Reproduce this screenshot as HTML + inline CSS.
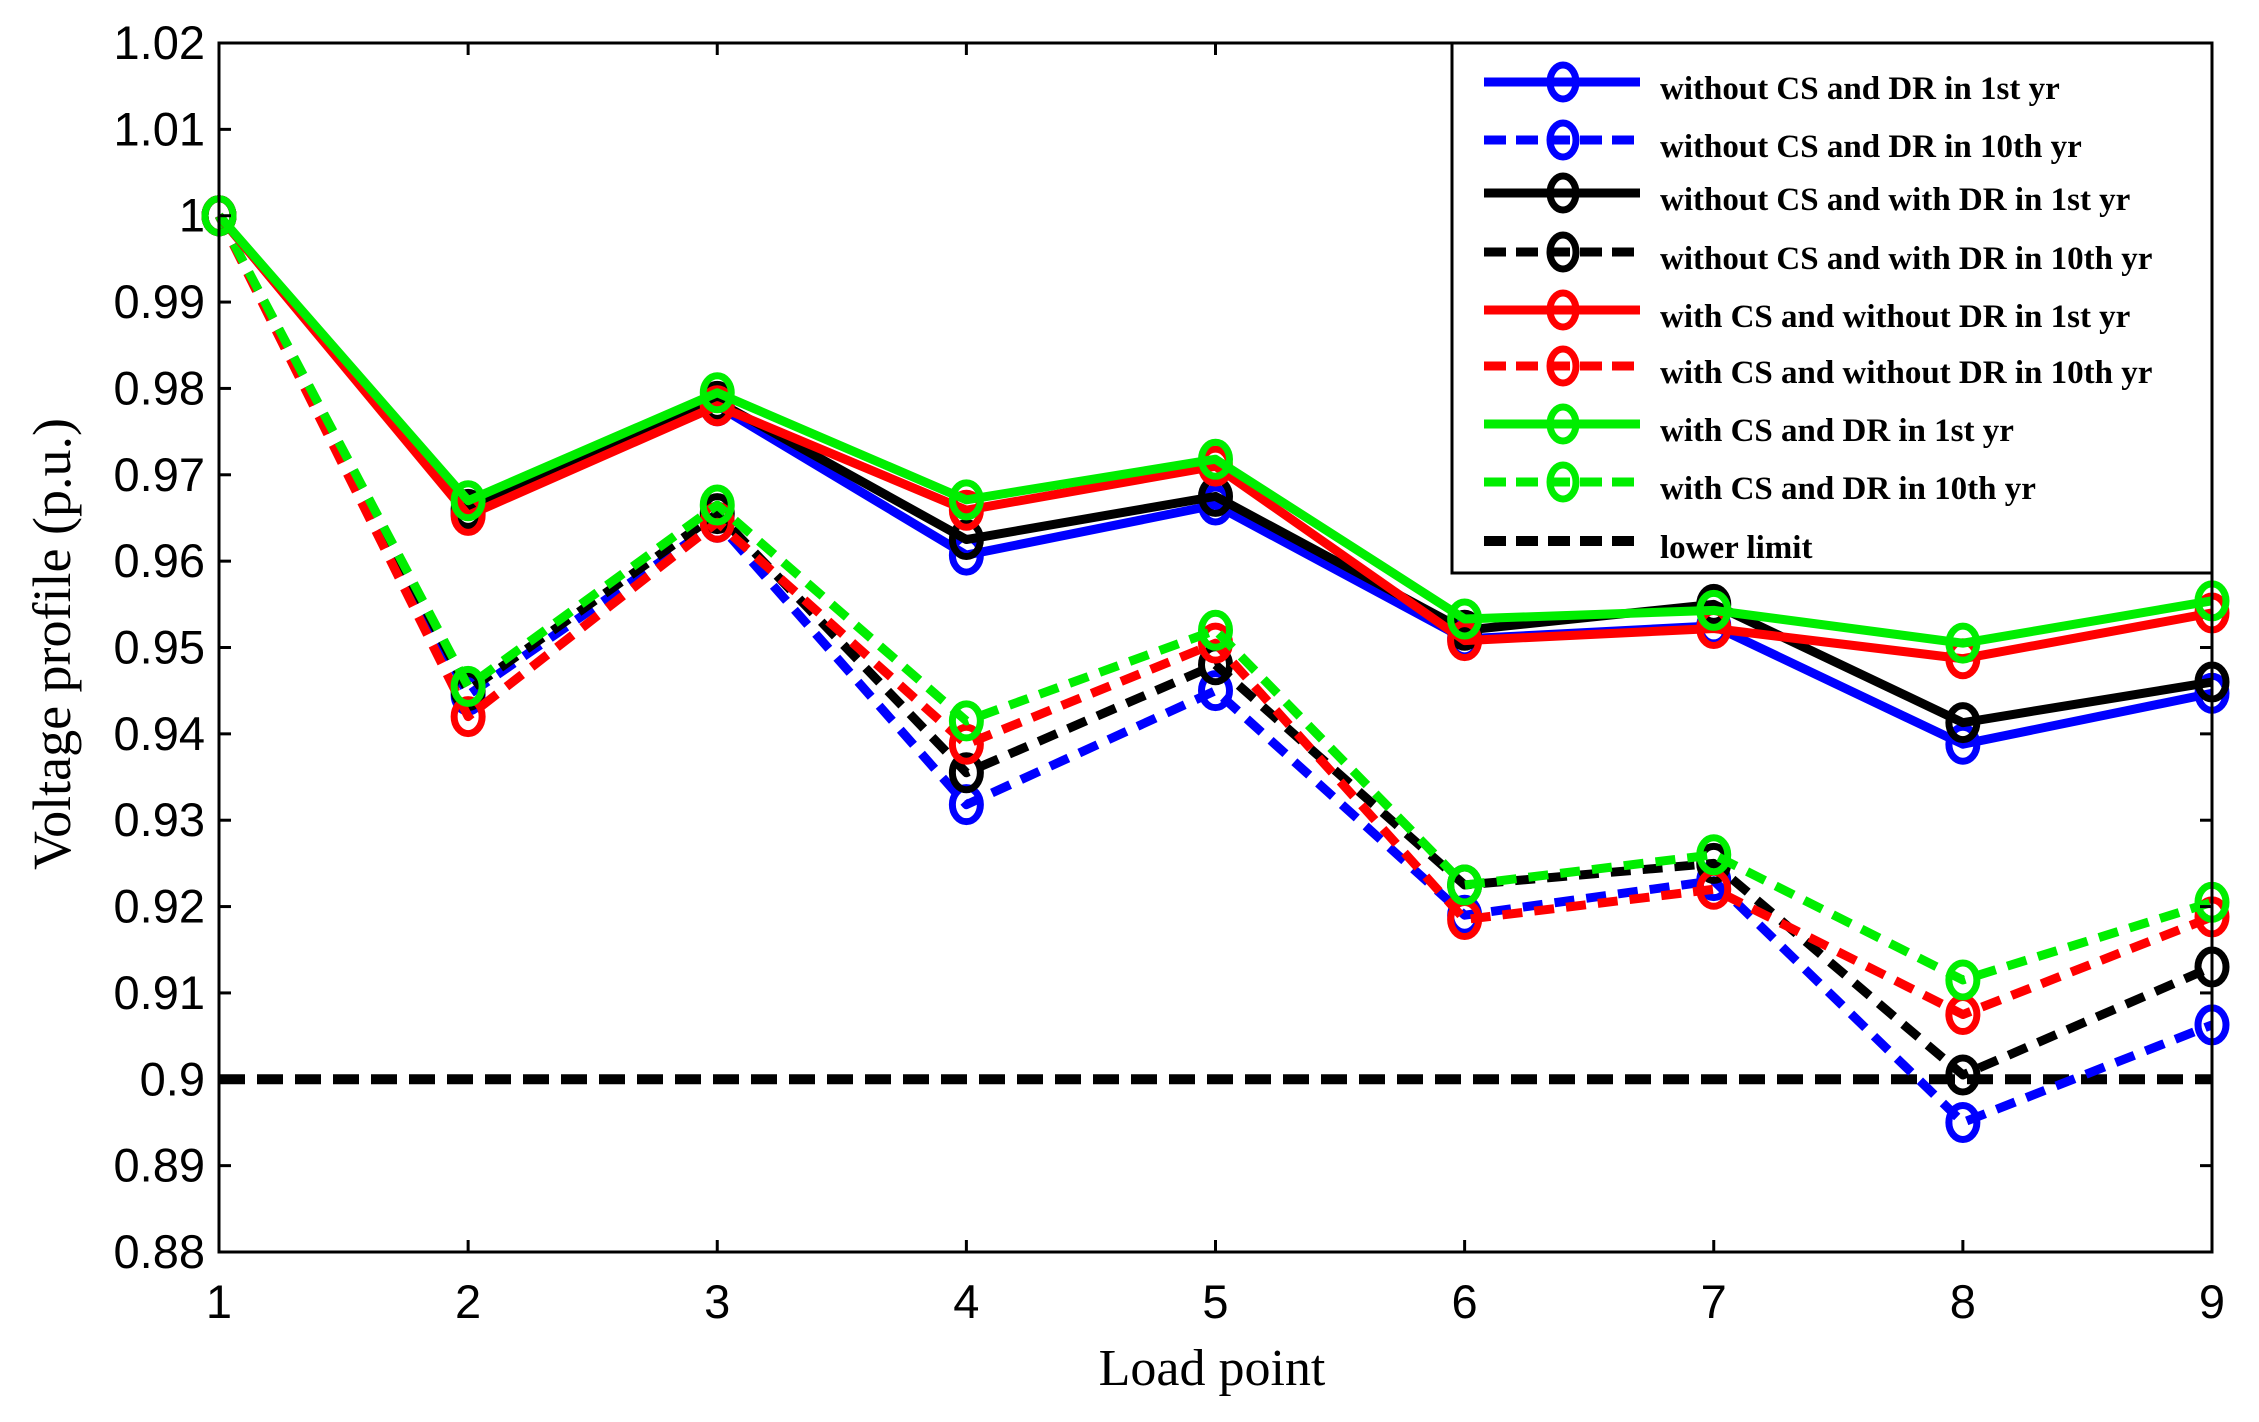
<!DOCTYPE html>
<html><head><meta charset="utf-8"><style>
html,body{margin:0;padding:0;background:#fff;}
svg{display:block;}
</style></head><body>
<svg id="chart" width="2259" height="1422" xmlns="http://www.w3.org/2000/svg">
<rect width="2259" height="1422" fill="#fff"/>
<g id="plot"></g>
</svg>
<script>
const categories = [1,2,3,4,5,6,7,8,9];
const yTicks = [0.88,0.89,0.9,0.91,0.92,0.93,0.94,0.95,0.96,0.97,0.98,0.99,1,1.01,1.02];
const yTickLabels = ["0.88","0.89","0.9","0.91","0.92","0.93","0.94","0.95","0.96","0.97","0.98","0.99","1","1.01","1.02"];
const blueSolid = [1,0.9655,0.978,0.9607,0.9665,0.951,0.9525,0.9388,0.9447];
const blueDash = [1,0.9445,0.9645,0.9318,0.945,0.919,0.923,0.895,0.9063];
const blackSolid = [1,0.966,0.9785,0.9625,0.9675,0.952,0.955,0.9413,0.946];
const blackDash = [1,0.945,0.9655,0.9355,0.948,0.9225,0.925,0.9005,0.913];
const redSolid = [1,0.9653,0.978,0.9659,0.971,0.9508,0.9522,0.9487,0.954];
const redDash = [1,0.942,0.9645,0.9388,0.9505,0.9185,0.922,0.9075,0.9188];
const greenSolid = [1,0.967,0.9795,0.9671,0.9718,0.9533,0.9543,0.9505,0.9554];
const greenDash = [1,0.9455,0.9665,0.9415,0.952,0.9225,0.926,0.9115,0.9205];
const lowerLimit = 0.9;
const legendLabels = ["without CS and DR in 1st yr","without CS and DR in 10th yr","without CS and with DR in 1st yr","without CS and with DR in 10th yr","with CS and without DR in 1st yr","with CS and without DR in 10th yr","with CS and DR in 1st yr","with CS and DR in 10th yr","lower limit"];

const NS="http://www.w3.org/2000/svg";
const L=219,R=2212,T=43,B=1252;
const xS=v=>L+(v-1)/(8)*(R-L);
const yS=v=>B-(v-0.88)/(0.14)*(B-T);
const g=document.getElementById('plot');
function mk(tag,attrs,parent){const e=document.createElementNS(NS,tag);for(const k in attrs)e.setAttribute(k,attrs[k]);(parent||g).appendChild(e);return e;}

const ll=mk('line',{x1:L,x2:R,y1:yS(lowerLimit),y2:yS(lowerLimit),stroke:'#000','stroke-width':10,'stroke-dasharray':'26,12'});



const series=[
 {d:blueDash,c:'#0000ff',dash:true,n:'blue-10th-yr'},
 {d:blackDash,c:'#000',dash:true,n:'black-10th-yr'},
 {d:redDash,c:'#ff0000',dash:true,n:'red-10th-yr'},
 {d:greenDash,c:'#00ee00',dash:true,n:'green-10th-yr'},
 {d:blueSolid,c:'#0000ff',dash:false,n:'blue-1st-yr'},
 {d:blackSolid,c:'#000',dash:false,n:'black-1st-yr'},
 {d:redSolid,c:'#ff0000',dash:false,n:'red-1st-yr'},
 {d:greenSolid,c:'#00ee00',dash:false,n:'green-1st-yr'}
];
series.forEach(s=>{
  const sg=mk('g',{});
  
  
  const pts=s.d.map((v,i)=>xS(categories[i])+','+yS(v)).join(' ');
  const a={points:pts,fill:'none',stroke:s.c,'stroke-width':9,'stroke-linejoin':'round'};
  if(s.dash)a['stroke-dasharray']='20,12';
  mk('polyline',a,sg);
  s.d.forEach((v,i)=>{
    const m=mk('ellipse',{cx:xS(categories[i]),cy:yS(v),rx:14,ry:17,fill:'none',stroke:s.c,'stroke-width':7},sg);
    
    
  });
});

const box=mk('rect',{x:L,y:T,width:R-L,height:B-T,fill:'none',stroke:'#000','stroke-width':3});


yTicks.forEach((v,i)=>{
  const y=yS(v);
  mk('line',{x1:L,x2:L+12,y1:y,y2:y,stroke:'#000','stroke-width':3});
  mk('line',{x1:R,x2:R-12,y1:y,y2:y,stroke:'#000','stroke-width':3});
  const t=mk('text',{x:205,y:y+16,'text-anchor':'end','font-family':'Liberation Sans, sans-serif','font-size':47,fill:'#000'});
  t.textContent=yTickLabels[i];
  
  
});
categories.forEach(c=>{
  const x=xS(c);
  mk('line',{x1:x,x2:x,y1:B,y2:B-12,stroke:'#000','stroke-width':3});
  mk('line',{x1:x,x2:x,y1:T,y2:T+12,stroke:'#000','stroke-width':3});
  const t=mk('text',{x:x,y:1318,'text-anchor':'middle','font-family':'Liberation Sans, sans-serif','font-size':47,fill:'#000'});
  t.textContent=c;
  
  
});
const xt=mk('text',{x:1212,y:1385,'text-anchor':'middle','font-family':'Liberation Serif, serif','font-size':52,fill:'#000'});
xt.textContent='Load point';


const yt=mk('text',{x:0,y:0,'text-anchor':'middle','font-family':'Liberation Serif, serif','font-size':54,fill:'#000',transform:'translate(70,644) rotate(-90)'});
yt.textContent='Voltage profile (p.u.)';



const lg=mk('g',{});


mk('rect',{x:1452,y:43,width:760,height:530,fill:'#fff',stroke:'#000','stroke-width':3},lg);
const legStyles=[['#0000ff',0],['#0000ff',1],['#000',0],['#000',1],['#ff0000',0],['#ff0000',1],['#00ee00',0],['#00ee00',1],['#000',2]];
const rowsY=[82,140,193,252,310,366,424,482,541];
legendLabels.forEach((lab,i)=>{
  const eg=mk('g',{},lg);
  
  
  const [c,st]=legStyles[i];const y=rowsY[i];
  const a={x1:1484,x2:1640,y1:y,y2:y,stroke:c,'stroke-width':st==2?10:9};
  if(st)a['stroke-dasharray']='22,10';
  mk('line',a,eg);
  if(st<2)mk('ellipse',{cx:1563,cy:y,rx:13,ry:17,fill:'none',stroke:c,'stroke-width':7},eg);
  const t=mk('text',{x:1660,y:y+17,'font-family':'Liberation Serif, serif','font-weight':'bold','font-size':33,fill:'#000'},eg);
  t.textContent=lab;
});
</script>
</body></html>
